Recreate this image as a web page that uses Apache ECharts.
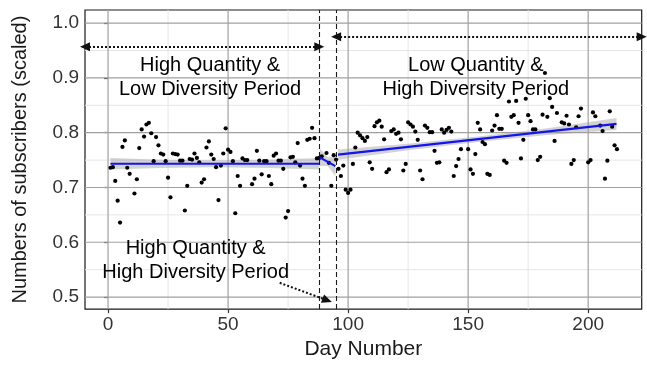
<!DOCTYPE html>
<html><head><meta charset="utf-8">
<script src="https://cdn.jsdelivr.net/npm/echarts@6/dist/echarts.min.js"></script>
<style>html,body{margin:0;padding:0;background:#fff}#c{width:647px;height:365px}</style>
</head><body><div id="c"></div>
<script>
// ---- axis ticks ----
const xTicks = [0, 50, 100, 150, 200];
const xMinorTicks = [25, 75, 125, 175];
const yTicks = [0.5, 0.6, 0.7, 0.8, 0.9, 1.0];
const yMinorTicks = [0.55, 0.65, 0.75, 0.85, 0.95];

// ---- scatter data: period 1 (high quantity & low diversity) ----
const days1 = [1,2,3,4,5,6,7,8,9,11,12,13,14,15,16,17,18,19,20,21,22,23,24,25,26,27,28,29,30,31,32,33,34,35,36,37,38,39,40,41,42,43,44,45,46,47,48,49,50,51,52,53,54,55,56,57,58,60,61,62,63,64,65,66,67,68,69,70,71,72,73,74,75,76,77,78,79,80,81,82,83,84,85,86,87,88];
const subs1 = [0.736,0.737,0.712,0.676,0.636,0.774,0.786,0.736,0.725,0.689,0.715,0.772,0.806,0.793,0.815,0.818,0.799,0.748,0.792,0.777,0.762,0.760,0.748,0.718,0.682,0.762,0.761,0.760,0.749,0.749,0.658,0.703,0.752,0.751,0.762,0.754,0.746,0.709,0.715,0.773,0.784,0.760,0.752,0.737,0.677,0.740,0.762,0.808,0.769,0.765,0.748,0.653,0.721,0.703,0.753,0.750,0.750,0.706,0.716,0.767,0.749,0.724,0.748,0.748,0.721,0.706,0.758,0.762,0.749,0.749,0.734,0.645,0.657,0.755,0.756,0.746,0.781,0.740,0.716,0.703,0.787,0.789,0.809,0.790,0.753,0.754];
// ---- period 2 (high quantity & high diversity) ----
const days2 = [89,91,92,93,94,95];
const subs2 = [0.757,0.763,0.745,0.703,0.759,0.751];
// ---- period 3 (low quantity & high diversity) ----
const days3 = [96,97,98,99,100,101,102,103,104,105,106,107,108,109,110,111,112,113,114,115,116,117,118,119,120,121,122,123,124,125,126,127,128,129,130,131,132,133,134,135,136,137,138,139,140,141,142,143,144,145,146,147,150,151,152,153,154,155,156,157,158,159,160,161,162,163,164,165,166,167,168,169,170,171,172,173,174,175,176,177,178,179,180,181,182,183,184,185,186,187,189,190,191,192,193,194,195,196,197,200,201,202,203,205,206,207,208,209,210,211,212];
const subs3 = [0.734,0.721,0.740,0.696,0.690,0.696,0.743,0.773,0.800,0.795,0.790,0.785,0.792,0.746,0.734,0.812,0.819,0.822,0.811,0.788,0.728,0.733,0.803,0.806,0.798,0.800,0.788,0.731,0.743,0.819,0.815,0.811,0.802,0.787,0.731,0.715,0.813,0.809,0.801,0.801,0.767,0.745,0.746,0.806,0.800,0.805,0.809,0.802,0.721,0.739,0.752,0.770,0.770,0.733,0.725,0.761,0.818,0.806,0.783,0.779,0.725,0.723,0.804,0.813,0.832,0.807,0.807,0.749,0.745,0.857,0.829,0.832,0.858,0.818,0.753,0.787,0.862,0.832,0.821,0.806,0.806,0.750,0.756,0.833,0.909,0.829,0.863,0.847,0.785,0.836,0.819,0.817,0.831,0.815,0.743,0.750,0.810,0.830,0.844,0.746,0.750,0.837,0.830,0.813,0.803,0.716,0.749,0.839,0.811,0.777,0.770];

// ---- linear fits (geom_smooth) with confidence half-widths ----
const fit1Days = [1, 22, 44.5, 67, 88];
const fit1Vals = [0.7433, 0.7433, 0.7433, 0.7433, 0.7433];
const fit1Half = [0.0105, 0.0075, 0.0065, 0.0075, 0.0105];
const fit2Days = [88.2, 91.5, 94.7];
const fit2Vals = [0.755, 0.747, 0.739];
const fit2Half = [0.016, 0.008, 0.018];
const fit3Days = [95.8, 125, 154, 183, 211.8];
const fit3Vals = [0.760, 0.774, 0.788, 0.802, 0.816];
const fit3Half = [0.0095, 0.006, 0.005, 0.006, 0.011];

// ---- period boundaries & annotations ----
const boundaryDays = [88, 95];
const annoTexts = ['High Quantity &\nLow Diversity Period', 'Low Quantity &\nHigh Diversity Period', 'High Quantity &\nHigh Diversity Period'];
const annoDays = [42.5, 153.2, 36.5];
const annoVals = [0.900, 0.900, 0.567];

const FONT = '"Liberation Sans", Arial, Helvetica, sans-serif';
const xMin = -9.6, xMax = 222.3, yMin = 0.478, yMax = 1.024;

function pairs(xs, ys) { return xs.map((x, i) => [x, ys[i]]); }
const bands = [
  {d: fit1Days, v: fit1Vals, h: fit1Half},
  {d: fit2Days, v: fit2Vals, h: fit2Half},
  {d: fit3Days, v: fit3Vals, h: fit3Half}
];
const BLUE = '#1414ee';
const arrowLine = {type: [2, 2], color: '#111', width: 2};

const chart = echarts.init(document.getElementById('c'), null, {renderer: 'canvas'});
chart.setOption({
  animation: false,
  backgroundColor: '#ffffff',
  textStyle: {fontFamily: FONT},
  grid: {left: 85, right: 5.3, top: 10, bottom: 50, show: true, borderColor: '#1a1a1a', borderWidth: 1.2, backgroundColor: 'transparent'},
  xAxis: {
    type: 'value', min: xMin, max: xMax,
    splitLine: {show: false}, axisLine: {show: false},
    axisTick: {show: true, customValues: xTicks, length: 4, lineStyle: {color: '#333', width: 1.2}},
    axisLabel: {customValues: xTicks, fontSize: 19, color: '#333', margin: 6, fontFamily: FONT},
    name: 'Day Number', nameLocation: 'middle', nameGap: 27,
    nameTextStyle: {fontSize: 21, color: '#1a1a1a', fontFamily: FONT}
  },
  yAxis: {
    type: 'value', min: yMin, max: yMax,
    splitLine: {show: false}, axisLine: {show: false},
    axisTick: {show: true, customValues: yTicks, length: 4, lineStyle: {color: '#333', width: 1.2}},
    axisLabel: {customValues: yTicks, fontSize: 19, color: '#333', margin: 6, fontFamily: FONT,
      formatter: v => v.toFixed(1)},
    name: 'Numbers of subscribers (scaled)', nameLocation: 'middle', nameGap: 55,
    nameTextStyle: {fontSize: 20, color: '#1a1a1a', fontFamily: FONT}
  },
  series: [
    { // panel grid lines
      type: 'custom', z: 1, silent: true, data: [[0, 0.5]],
      renderItem: function (params, api) {
        const cs = params.coordSys;
        const children = [];
        const add = (vals, isX, color, w) => vals.forEach(v => {
          const p = api.coord(isX ? [v, yMin] : [xMin, v]);
          children.push({type: 'line', shape: isX ? {x1: p[0], y1: cs.y, x2: p[0], y2: cs.y + cs.height}
                                                  : {x1: cs.x, y1: p[1], x2: cs.x + cs.width, y2: p[1]},
            style: {stroke: color, lineWidth: w}});
        });
        add(xMinorTicks, true, '#e6e6e6', 1);
        add(yMinorTicks, false, '#e6e6e6', 1);
        add(xTicks, true, '#a0a0a0', 1.2);
        add(yTicks, false, '#a0a0a0', 1.2);
        return {type: 'group', children: children};
      }
    },
    { // confidence bands
      type: 'custom', z: 2, silent: true, data: bands.map((b, i) => [b.d[0], b.v[0]]),
      renderItem: function (params, api) {
        const b = bands[params.dataIndex];
        const up = b.d.map((d, k) => api.coord([d, b.v[k] + b.h[k]]));
        const lo = b.d.map((d, k) => api.coord([d, b.v[k] - b.h[k]])).reverse();
        return {type: 'polygon', shape: {points: up.concat(lo)}, style: {fill: 'rgba(150,150,150,0.42)'}};
      }
    },
    {
      type: 'scatter', z: 3, symbolSize: 4.2, itemStyle: {color: '#000', opacity: 1},
      data: pairs(days1, subs1).concat(pairs(days2, subs2), pairs(days3, subs3))
    },
    {type: 'line', z: 4, showSymbol: false, symbol: 'none', lineStyle: {color: BLUE, width: 2.2}, data: pairs([fit1Days[0], fit1Days[fit1Days.length-1]], [fit1Vals[0], fit1Vals[fit1Vals.length-1]])},
    {type: 'line', z: 4, showSymbol: false, symbol: 'none', lineStyle: {color: BLUE, width: 2.2}, data: pairs([fit2Days[0], fit2Days[fit2Days.length-1]], [fit2Vals[0], fit2Vals[fit2Vals.length-1]])},
    {type: 'line', z: 4, showSymbol: false, symbol: 'none', lineStyle: {color: BLUE, width: 2.2}, data: pairs([fit3Days[0], fit3Days[fit3Days.length-1]], [fit3Vals[0], fit3Vals[fit3Vals.length-1]])},
    { // period boundaries (dashed)
      type: 'line', z: 5, data: [], silent: true,
      markLine: {
        silent: true, animation: false, symbol: ['none', 'none'], label: {show: false},
        lineStyle: {type: [5, 3], color: '#1a1a1a', width: 1.1},
        data: boundaryDays.map(d => ({xAxis: d}))
      }
    },
    { // annotations + arrows
      type: 'scatter', z: 6, symbolSize: 0, silent: true,
      itemStyle: {opacity: 1},
      data: annoDays.map((d, i) => ({value: [d, annoVals[i]], name: annoTexts[i]})),
      label: {show: true, position: 'inside', formatter: p => p.name, fontSize: 20, lineHeight: 24, color: '#000', opacity: 1, fontFamily: FONT, align: 'center', textBorderWidth: 0},
      markLine: {
        silent: true, animation: false, label: {show: false},
        symbol: ['triangle', 'triangle'], symbolSize: [9, 10],
        lineStyle: arrowLine,
        itemStyle: {color: '#111'},
        data: [
          [{coord: [xMin, 0.957]}, {coord: [boundaryDays[0], 0.957]}],
          [{coord: [boundaryDays[1], 0.975]}, {coord: [xMax, 0.975]}],
          [{coord: [71.5, 0.526], symbol: 'none'}, {coord: [91.3, 0.494]}]
        ]
      }
    }
  ]
});
</script></body></html>
